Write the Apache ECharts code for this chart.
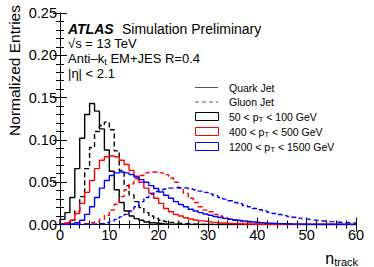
<!DOCTYPE html>
<html><head><meta charset="utf-8">
<script src="https://cdn.jsdelivr.net/npm/echarts@6/dist/echarts.min.js"></script>
<style>html,body{margin:0;padding:0;background:#fff}#c{width:374px;height:267px}</style>
</head><body><div id="c"></div>
<script>
// bin k covers n_track in [k, k+1)
var quark50 = [0.006,0.014,0.032,0.066,0.102,0.130,0.143,0.134,0.113,0.088,0.063,0.041,0.026,0.016,0.010,0.007,0.005,0.003,0.002,0.0015,0.001,0.0007,0.0005,0.0003,0.0002,0,0,0,0,0,0,0,0,0,0,0,0,0,0,0,0,0,0,0,0,0,0,0,0,0,0,0,0,0,0,0,0,0,0,0];
var gluon50 = [0.001,0.002,0.005,0.016,0.033,0.066,0.091,0.110,0.117,0.121,0.112,0.087,0.064,0.046,0.035,0.027,0.020,0.014,0.010,0.007,0.005,0.0035,0.0025,0.0017,0.0012,0.0008,0.0005,0.0003,0,0,0,0,0,0,0,0,0,0,0,0,0,0,0,0,0,0,0,0,0,0,0,0,0,0,0,0,0,0,0,0];
var quark400 = [0.001,0.002,0.005,0.013,0.025,0.038,0.052,0.066,0.076,0.080,0.081,0.080,0.076,0.071,0.064,0.057,0.050,0.043,0.037,0.031,0.025,0.019,0.015,0.012,0.010,0.008,0.0065,0.0053,0.0043,0.0035,0.0028,0.0022,0.0018,0.0014,0.0011,0.0009,0.0007,0.0005,0.0004,0.0003,0.0002,0,0,0,0,0,0,0,0,0,0,0,0,0,0,0,0,0,0,0];
var gluon400 = [0,0,0,0.0005,0.001,0.001,0.002,0.003,0.006,0.011,0.017,0.024,0.033,0.041,0.048,0.054,0.058,0.061,0.062,0.062,0.061,0.059,0.055,0.050,0.043,0.037,0.031,0.026,0.021,0.017,0.015,0.012,0.010,0.008,0.0065,0.005,0.004,0.003,0.0024,0.0019,0.0015,0.0012,0.0009,0.0007,0.0005,0.0004,0.0003,0.0002,0,0,0,0,0,0,0,0,0,0,0,0];
var quark1200 = [0,0.0005,0.001,0.002,0.005,0.012,0.021,0.032,0.043,0.052,0.058,0.061,0.062,0.061,0.059,0.056,0.053,0.050,0.046,0.0425,0.0385,0.0345,0.031,0.027,0.0237,0.021,0.018,0.016,0.014,0.0125,0.011,0.0095,0.0083,0.0072,0.0062,0.0053,0.0045,0.0038,0.0032,0.0027,0.0022,0.0018,0.0015,0.0012,0.001,0.0008,0.0006,0.0005,0.0004,0.0003,0.0002,0,0,0,0,0,0,0,0,0];
var gluon1200 = [0,0,0,0,0,0.0003,0.0005,0.0008,0.001,0.002,0.004,0.006,0.009,0.012,0.016,0.021,0.027,0.032,0.036,0.039,0.041,0.042,0.043,0.0435,0.0435,0.043,0.042,0.041,0.0395,0.038,0.036,0.034,0.032,0.030,0.028,0.026,0.0245,0.0225,0.021,0.019,0.0175,0.016,0.0145,0.013,0.0118,0.0105,0.0095,0.0085,0.0075,0.0066,0.0058,0.005,0.0044,0.0039,0.0034,0.003,0.0026,0.0023,0.002,0.0018];

var xTicks = [0,10,20,30,40,50,60];
var yTicks = ['0.00','0.05','0.10','0.15','0.20','0.25'];
var legendLabels = ['Quark Jet','Gluon Jet','50 < p{s|T} < 100 GeV','400 < p{s|T} < 500 GeV','1200 < p{s|T} < 1500 GeV'];

function steps(arr){
  var d=[[0,0]];
  for(var k=0;k<arr.length;k++) d.push([k,arr[k]]);
  d.push([arr.length,arr[arr.length-1]]);
  return d;
}
var FONT='"Liberation Sans", Arial, Helvetica, sans-serif';
function hist(name,arr,color,dashed){
  return {name:name,type:'line',step:'end',symbol:'none',data:steps(arr),
    lineStyle:{color:color,width:1.4,type:dashed?[5,3]:'solid'},animation:false,silent:true,clip:true};
}
function axisCommon(){
  return {axisLine:{show:true,lineStyle:{color:'#000',width:1}},
    axisTick:{show:true,inside:true,length:7,lineStyle:{color:'#000'}},
    minorTick:{show:true,splitNumber:5,length:4,lineStyle:{color:'#000'}},
    splitLine:{show:false},minorSplitLine:{show:false}};
}
function txt(x,y,text,size,extra){
  var s={text:text,fontSize:size,fontFamily:FONT,fill:'#000',verticalAlign:'middle'};
  if(extra) for(var k in extra) s[k]=extra[k];
  return {type:'text',x:x,y:y,style:s};
}
var chart=echarts.init(document.getElementById('c'),null,{renderer:'svg'});
var xa0=Object.assign(axisCommon(),{type:'value',min:0,max:60,interval:10,position:'bottom',
  axisLabel:{fontSize:14.5,color:'#000',fontFamily:FONT,margin:3,formatter:function(v){return xTicks.indexOf(v)>=0?String(v):'';}}});
var xa1=Object.assign(axisCommon(),{type:'value',min:0,max:60,interval:10,position:'top',axisLabel:{show:false}});
var ya0=Object.assign(axisCommon(),{type:'value',min:0,max:0.25,interval:0.05,position:'left',
  axisLabel:{fontSize:14.5,color:'#000',fontFamily:FONT,margin:3,formatter:function(v){return yTicks[Math.round(v/0.05)];}}});
var ya1=Object.assign(axisCommon(),{type:'value',min:0,max:0.25,interval:0.05,position:'right',axisLabel:{show:false}});

var legY=[87.5,102,116.5,131.5,146.5];
var g=[];
g.push(txt(68,29,'ATLAS',14,{fontStyle:'italic',fontWeight:'bold'}));
g.push(txt(122,29,'Simulation Preliminary',14));
g.push(txt(68,43,'\u221As = 13 TeV',13));
g.push(txt(68,58,'Anti\u2013k{s|t} EM+JES R=0.4',13,{rich:{s:{fontSize:9.5,fontFamily:FONT,padding:[6,0,0,0]}}}));
g.push(txt(68,73,'|\u03B7| < 2.1',13));
// legend
g.push({type:'line',shape:{x1:195,y1:legY[0],x2:218,y2:legY[0]},style:{stroke:'#555',lineWidth:1}});
g.push({type:'line',shape:{x1:195,y1:legY[1],x2:218,y2:legY[1]},style:{stroke:'#555',lineWidth:1,lineDash:[4,3]}});
var boxCols=['#000','#ff0000','#0000ff'];
for(var i=0;i<3;i++){
  g.push({type:'rect',shape:{x:195.5,y:legY[i+2]-4,width:23,height:8},style:{fill:'#fff',stroke:boxCols[i],lineWidth:1}});
}
for(var j=0;j<5;j++){
  g.push(txt(229,legY[j],legendLabels[j],10.5,{rich:{s:{fontSize:8,fontFamily:FONT,padding:[5,0,0,0]}}}));
}
// axis titles
g.push({type:'text',x:14,y:5,rotation:Math.PI/2,style:{text:'Normalized Entries',fontSize:15.5,fontFamily:FONT,fill:'#000',align:'right',verticalAlign:'middle'}});
g.push(txt(358,258,'n{s|track}',16,{align:'right',rich:{s:{fontSize:11,fontFamily:FONT,padding:[7,0,0,0]}}}));

chart.setOption({
  animation:false,
  backgroundColor:'#fff',
  grid:{left:60,right:18,top:13,bottom:42.5,containLabel:false},
  xAxis:[xa0,xa1],
  yAxis:[ya0,ya1],
  series:[hist('quark50',quark50,'#000',false),hist('gluon50',gluon50,'#000',true),
    hist('quark400',quark400,'#ff0000',false),hist('gluon400',gluon400,'#ff0000',true),
    hist('quark1200',quark1200,'#0000ff',false),hist('gluon1200',gluon1200,'#0000ff',true)],
  graphic:g
});
</script></body></html>
